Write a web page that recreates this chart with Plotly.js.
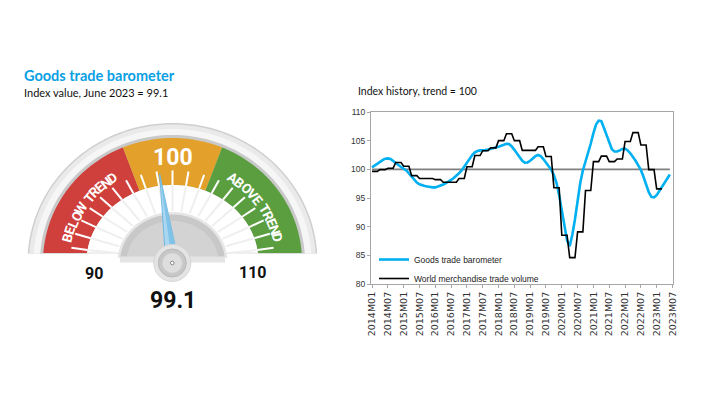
<!DOCTYPE html>
<html><head><meta charset="utf-8">
<script src="https://cdn.plot.ly/plotly-3.0.1.min.js"></script>
<style>html,body{margin:0;padding:0;background:#fff;} #chart{width:707px;height:398px;}</style>
</head><body><div id="chart"></div>
<script>
// ---------- DATA ----------
const tickLabels = ["2014M01","2014M07","2015M01","2015M07","2016M01","2016M07","2017M01","2017M07",
  "2018M01","2018M07","2019M01","2019M07","2020M01","2020M07","2021M01","2021M07","2022M01","2022M07",
  "2023M01","2023M07"];

// Goods trade barometer, monthly 2014M01..2023M06
const barometer = [
  100.35,100.7,101.0,101.3,101.6,101.85,101.9,101.8,101.5,101.1,100.75,100.4,
  100.1,99.8,99.3,98.7,98.1,97.7,97.4,97.2,97.1,97.0,96.9,96.85,
  96.85,97.0,97.15,97.35,97.6,97.85,98.15,98.5,98.85,99.3,99.8,100.5,
  101.2,101.9,102.5,102.95,103.2,103.3,103.3,103.35,103.45,103.55,103.65,103.8,
  103.95,104.1,104.3,104.45,104.4,104.0,103.4,102.7,102.0,101.5,101.15,101.2,
  101.5,101.9,102.3,102.5,102.3,101.8,101.2,100.6,99.95,99.0,97.6,95.5,
  93.0,90.3,87.6,86.6,88.6,91.3,94.6,97.6,99.8,101.3,102.8,104.5,
  106.3,107.8,108.5,108.4,107.2,105.9,104.6,103.5,103.1,103.1,103.3,103.55,
  103.6,103.3,102.8,102.2,101.5,100.7,99.9,98.7,97.3,96.0,95.2,95.1,
  95.5,96.2,96.9,97.7,98.4,99.1
];

// World merchandise trade volume (quarterly level shown for each month), 2014M01..2023M03
const tradeVolume = [
  99.65,99.65,99.65,99.95,99.95,99.95,100.2,100.2,100.2,101.2,101.2,101.2,
  100.55,100.55,100.55,98.9,98.9,98.9,98.4,98.4,98.4,98.4,98.4,98.4,
  98.2,98.2,98.2,97.75,97.75,97.75,97.75,97.75,97.75,98.4,98.4,98.4,
  100.45,100.45,100.45,102.4,102.4,102.4,103.25,103.25,103.25,103.75,103.75,103.75,
  105.0,105.0,105.0,106.2,106.2,106.2,105.0,105.0,105.0,103.3,103.3,103.3,
  103.3,103.3,103.3,103.95,103.95,103.95,102.25,102.25,102.25,96.8,96.8,96.8,
  88.5,88.5,88.5,84.6,84.6,84.6,89.1,89.1,89.1,96.3,96.3,96.3,
  101.35,101.35,101.35,102.3,102.3,102.3,101.35,101.35,101.35,101.8,101.8,101.8,
  104.85,104.85,104.85,106.4,106.4,106.4,104.25,104.25,104.25,99.95,99.95,99.95,
  96.6,96.6,96.6
];

const trendLevel = 100;
const gaugeValue = 99.1;
const gaugeMin = 90, gaugeMax = 110;
const bandBelowEnd = 97.5, bandAboveStart = 102.5;
const gaugeTickValues = [91,92,93,94,95,96,97,98,99,100,101,102,103,104,105,106,107,108,109];

// month categories 2014M01..2023M07
const months = [];
for (let y = 2014; y <= 2023; y++) for (let m = 1; m <= 12; m++) {
  if (y === 2023 && m > 7) break;
  months.push(y + 'M' + String(m).padStart(2, '0'));
}

// ---------- GEOMETRY HELPERS ----------
const W = 707, H = 398;
const px = x => x / W, py = y => 1 - y / H;
const CX = 172.5, CY = 262;
const valueToDeg = v => 180 - (v - gaugeMin) / (gaugeMax - gaugeMin) * 180;
const rad = d => d * Math.PI / 180;
function ept(tDeg, rx, ry) { return [CX + rx * Math.cos(rad(tDeg)), CY - ry * Math.sin(rad(tDeg))]; }
function ring(lo, hi, rxo, ryo, rxi, ryi, clipY) {
  const cut = ry => Math.asin(Math.min(1, (CY - clipY) / ry)) * 180 / Math.PI;
  const n = 80, pts = [];
  const loO = Math.max(lo, cut(ryo)), hiO = Math.min(hi, 180 - cut(ryo));
  for (let i = 0; i <= n; i++) pts.push(ept(hiO - (hiO - loO) * i / n, rxo, ryo));
  if (rxi > 0) {
    const loI = Math.max(lo, cut(ryi)), hiI = Math.min(hi, 180 - cut(ryi));
    for (let i = 0; i <= n; i++) pts.push(ept(loI + (hiI - loI) * i / n, rxi, ryi));
  }
  return 'M' + pts.map(p => p[0].toFixed(2) + ',' + p[1].toFixed(2)).join('L') + 'Z';
}
const shapes = [];
function addPath(path, fill, layer, line) {
  shapes.push({type: 'path', xref: 'x2', yref: 'y2', path: path, fillcolor: fill,
    line: line || {width: 0}, layer: layer || 'below'});
}
// rim
addPath(ring(-90, 270, 145, 139, 0, 0, 253.5), '#cfcfcf');
addPath(ring(-90, 270, 143.5, 137.5, 0, 0, 253.5), '#eaeaea');
addPath(ring(-90, 270, 139, 133, 0, 0, 253.5), '#f6f6f6');
addPath(ring(-90, 270, 132.5, 127, 0, 0, 253.5), '#c9c9c9');
// coloured bands
const RXO = 129.5, RYO = 124, RXI = 86, RYI = 77;
addPath(ring(valueToDeg(bandBelowEnd), 270, RXO, RYO, RXI, RYI, 253), '#cf3f3b');
addPath(ring(valueToDeg(bandAboveStart), valueToDeg(bandBelowEnd), RXO, RYO, RXI, RYI, 253), '#e3a12b');
addPath(ring(-90, valueToDeg(bandAboveStart), RXO, RYO, RXI, RYI, 253), '#5a9e40');
// white inner ring
addPath(ring(-90, 270, RXI, RYI, 0, 0, 253), '#ffffff');
// faint radial lines in white ring and white ticks on bands
for (let v = gaugeMin; v <= gaugeMax; v += 1) {
  const t = valueToDeg(v);
  const a = ept(t, 56, 51), b = ept(t, RXI - 1, RYI - 1);
  shapes.push({type: 'line', xref: 'x2', yref: 'y2', x0: a[0], y0: Math.min(a[1], 253), x1: b[0], y1: Math.min(b[1], 253),
    line: {color: '#efefef', width: 2}, layer: 'below'});
}
gaugeTickValues.forEach(v => {
  const t = valueToDeg(v);
  const a = ept(t, RXI, RYI), b = ept(t, RXI * 1.19, RYI * 1.19);
  shapes.push({type: 'line', xref: 'x2', yref: 'y2', x0: a[0], y0: a[1], x1: b[0], y1: b[1],
    line: {color: '#ffffff', width: 2}, layer: 'below'});
});
// hub
addPath(ring(-90, 270, 55, 50, 0, 0, 258), '#e6e6e6');
addPath(ring(-90, 270, 52.5, 47.5, 0, 0, 257), '#c8c8c8');
addPath(ring(-90, 270, 46, 41, 0, 0, 257), '#d3d3d3');
shapes.push({type: 'rect', xref: 'x2', yref: 'y2', x0: 120, x1: 225, y0: 256.5, y1: 262.5, fillcolor: '#e4e4e4', line: {width: 0}, layer: 'below'});
// pivot (above needle)
const PX = 172.3, PY = 263;
function circ(r, fill, lc) {
  shapes.push({type: 'circle', xref: 'x2', yref: 'y2', x0: PX - r, x1: PX + r, y0: PY - r, y1: PY + r,
    fillcolor: fill, line: {color: lc || fill, width: 1}, layer: 'above'});
}
circ(18.5, '#e4e4e4', '#d6d6d6');
circ(14, '#c7c7c7', '#b9b9b9');
circ(10, '#dedede', '#d2d2d2');
circ(1.8, '#ffffff', '#8a8a8a');

// needle
const nd = valueToDeg(gaugeValue);
const tip = [PX + 90 * Math.cos(rad(nd)), PY - 90 * Math.sin(rad(nd))];
const perp = [Math.cos(rad(nd + 90)), -Math.sin(rad(nd + 90))];
const bl = [PX + 6.5 * perp[0], PY + 6.5 * perp[1]];
const br = [PX - 6.5 * perp[0], PY - 6.5 * perp[1]];

// curved labels
const GF = 'Roboto, Liberation Sans, sans-serif';
const annotations = [];
function arcText(str, tA, tB, rx, ry, size) {
  const chars = [...str];
  const w = chars.map(c => c === ' ' ? 0.3 : (c === 'W' ? 0.85 : (c === 'O' ? 0.66 : 0.58)));
  const total = w.reduce((a, b) => a + b, 0);
  let cum = 0;
  chars.forEach((c, i) => {
    const f = (cum + w[i] / 2) / total; cum += w[i];
    if (c === ' ') return;
    const t = tA + (tB - tA) * f;
    const p = ept(t, rx, ry);
    annotations.push({xref: 'x2', yref: 'y2', x: p[0], y: p[1], text: c, showarrow: false,
      xanchor: 'center', yanchor: 'middle', textangle: 90 - t,
      font: {family: GF, size: size, color: '#ffffff', weight: 'bold'}});
  });
}
arcText('BELOW TREND', 168, 122, 108, 101, 13.5);
arcText('ABOVE TREND', 58, 12, 108, 101, 13.5);

const gaugeFont = (s, c) => ({family: GF, size: s, color: c, weight: 'bold'});
annotations.push(
  {xref: 'x2', yref: 'y2', x: CX, y: 157, text: String(trendLevel), showarrow: false, font: gaugeFont(23, '#ffffff')},
  {xref: 'x2', yref: 'y2', x: 93.5, y: 273, text: String(gaugeMin), showarrow: false, font: gaugeFont(16, '#111111')},
  {xref: 'x2', yref: 'y2', x: 252.5, y: 272.5, text: String(gaugeMax), showarrow: false, font: gaugeFont(16, '#111111')},
  {xref: 'x2', yref: 'y2', x: CX, y: 300.5, text: String(gaugeValue), showarrow: false, font: gaugeFont(23, '#111111')},
  {xref: 'paper', yref: 'paper', x: px(22), y: py(76), xanchor: 'left', yanchor: 'middle', showarrow: false,
    text: 'Goods trade barometer', font: {family: 'Lato, sans-serif', size: 14.5, color: '#0aa0e3', weight: 'bold'}},
  {xref: 'paper', yref: 'paper', x: px(22), y: py(92.5), xanchor: 'left', yanchor: 'middle', showarrow: false,
    text: 'Index value, June 2023 = ' + gaugeValue, font: {family: 'Lato, sans-serif', size: 11, color: '#111111'}},
  {xref: 'paper', yref: 'paper', x: px(356), y: py(91), xanchor: 'left', yanchor: 'middle', showarrow: false,
    text: 'Index history, trend = ' + trendLevel, font: {family: 'Lato, sans-serif', size: 10.5, color: '#111111'}}
);

// trend line at 100
shapes.push({type: 'line', xref: 'x', yref: 'y', x0: months[0], x1: months[barometer.length - 1], y0: trendLevel, y1: trendLevel,
  line: {color: '#808080', width: 1.6}, layer: 'below'});

const traces = [
  {type: 'scatter', mode: 'lines', name: 'Goods trade barometer', x: months.slice(0, barometer.length), y: barometer,
    line: {color: '#00B0F0', width: 2.6}, xaxis: 'x', yaxis: 'y', hoverinfo: 'skip'},
  {type: 'scatter', mode: 'lines', name: 'World merchandise trade volume', x: months.slice(0, tradeVolume.length), y: tradeVolume,
    line: {color: '#000000', width: 1.6}, xaxis: 'x', yaxis: 'y', hoverinfo: 'skip'},
  {type: 'scatter', mode: 'lines', x: [bl[0], tip[0], br[0], bl[0]], y: [bl[1], tip[1], br[1], bl[1]],
    fill: 'toself', fillcolor: '#a9d7f1', line: {color: '#5eb0dd', width: 0.8}, xaxis: 'x2', yaxis: 'y2',
    showlegend: false, hoverinfo: 'skip'},
  {type: 'scatter', mode: 'lines', x: [PX, tip[0], br[0], PX], y: [PY, tip[1], br[1], PY],
    fill: 'toself', fillcolor: '#7fc3e8', line: {width: 0}, xaxis: 'x2', yaxis: 'y2',
    showlegend: false, hoverinfo: 'skip'}
];

const layout = {
  width: W, height: H, margin: {l: 0, r: 0, t: 0, b: 0},
  paper_bgcolor: '#ffffff', plot_bgcolor: '#ffffff', hovermode: false,
  showlegend: true,
  legend: {x: px(374), xanchor: 'left', y: py(245), yanchor: 'top', bgcolor: 'rgba(0,0,0,0)',
    font: {family: 'Liberation Sans, Arial, sans-serif', size: 8.5, color: '#222222'}, itemwidth: 30, tracegroupgap: 0},
  xaxis: {domain: [px(371), px(673)], type: 'category', categoryorder: 'array', categoryarray: months,
    range: [-0.4, 114.2], tickmode: 'array', tickvals: tickLabels, ticktext: tickLabels, tickangle: -90,
    ticks: 'outside', ticklen: 3, tickcolor: '#a6a6a6', showline: true, linecolor: '#a6a6a6', linewidth: 1,
    mirror: true, showgrid: false, zeroline: false, automargin: false, fixedrange: true, anchor: 'y',
    tickfont: {family: 'DejaVu Sans, sans-serif', size: 9.5, color: '#333333'}},
  yaxis: {domain: [py(284), py(112)], range: [80, 110], tick0: 80, dtick: 5, ticks: 'outside', ticklen: 3,
    tickcolor: '#a6a6a6', showline: true, linecolor: '#a6a6a6', linewidth: 1, mirror: true, showgrid: false,
    zeroline: false, automargin: false, fixedrange: true, anchor: 'x',
    tickfont: {family: 'Liberation Sans, Arial, sans-serif', size: 8.5, color: '#333333'}},
  xaxis2: {domain: [0, px(340)], range: [0, 340], visible: false, anchor: 'y2', fixedrange: true},
  yaxis2: {domain: [0, 1], range: [398, 0], visible: false, anchor: 'x2', fixedrange: true},
  shapes: shapes, annotations: annotations
};

Plotly.newPlot('chart', traces, layout, {staticPlot: true, displayModeBar: false});
</script>
</body></html>
